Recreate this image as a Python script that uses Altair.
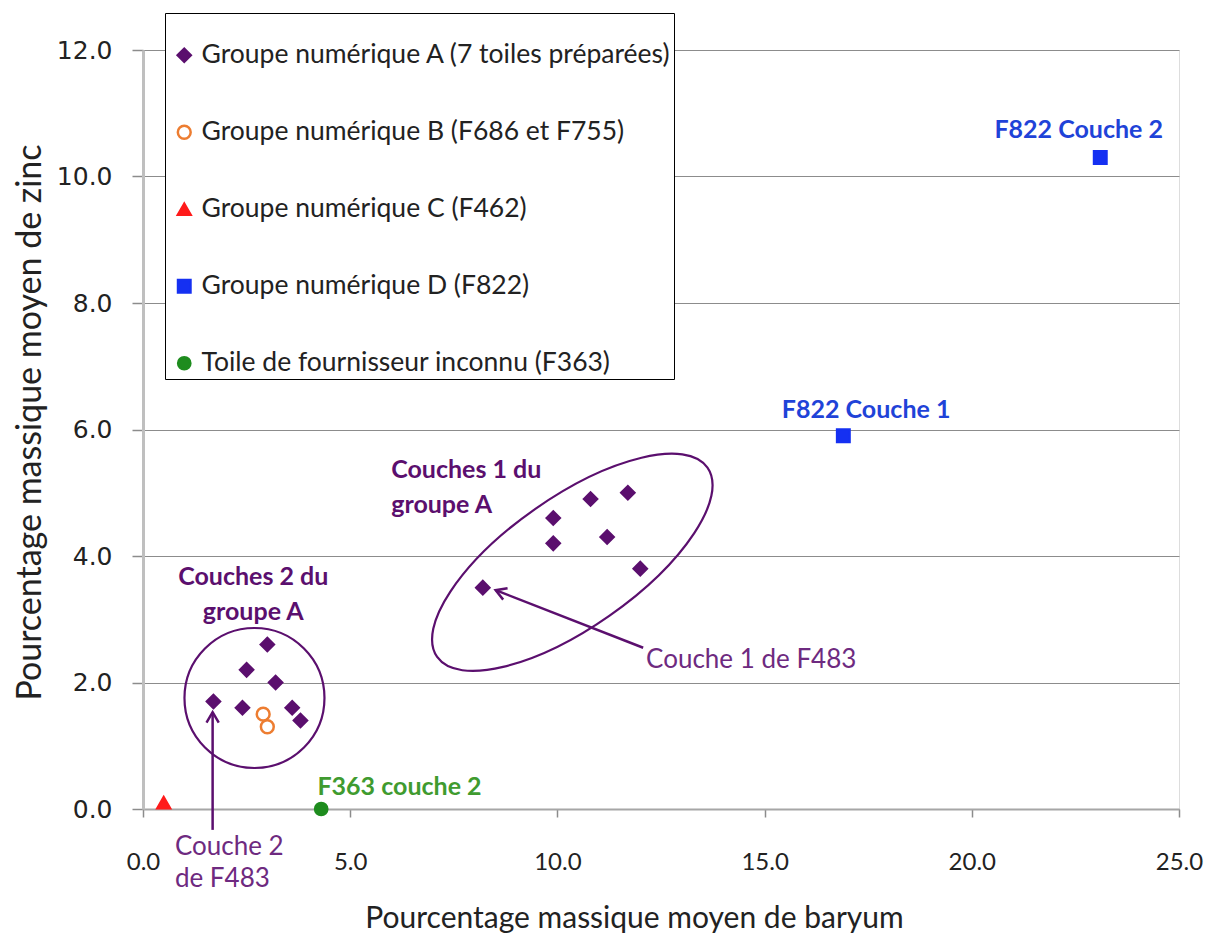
import altair as alt
import pandas as pd

# ---- data ----
groups = [
    "Groupe numérique A (7 toiles préparées)",
    "Groupe numérique B (F686 et F755)",
    "Groupe numérique C (F462)",
    "Groupe numérique D (F822)",
    "Toile de fournisseur inconnu (F363)",
]
groupA_x = [8.2, 9.9, 9.9, 10.8, 11.2, 11.7, 12.0, 1.7, 2.4, 2.5, 3.0, 3.2, 3.6, 3.8]
groupA_y = [3.5, 4.6, 4.2, 4.9, 4.3, 5.0, 3.8, 1.7, 1.6, 2.2, 2.6, 2.0, 1.6, 1.4]
groupB_x = [2.9, 3.0]
groupB_y = [1.5, 1.3]
groupC_x = [0.5]
groupC_y = [0.1]
groupD_x = [16.9, 23.1]
groupD_y = [5.9, 10.3]
groupE_x = [4.3]
groupE_y = [0.0]

x_ticks = [0, 5, 10, 15, 20, 25]
y_ticks = [0, 2, 4, 6, 8, 10, 12]

colors = ["#5b0f6e", "#ed7d31", "#ff1a1a", "#1530f2", "#1e8c1e"]
fills = ["#5b0f6e", "#ffffff", "#ff1a1a", "#1530f2", "#1e8c1e"]
shapes = ["diamond", "circle", "triangle-up", "square", "circle"]
sizes = [170, 150, 150, 190, 140]

rows = []
for g, xs_, ys_ in zip(groups,
                       [groupA_x, groupB_x, groupC_x, groupD_x, groupE_x],
                       [groupA_y, groupB_y, groupC_y, groupD_y, groupE_y]):
    for xv, yv in zip(xs_, ys_):
        rows.append({"baryum": xv, "zinc": yv, "groupe": g})
df = pd.DataFrame(rows)

# annotations (y of multi-line labels = first line)
boldc_text = ["F822 Couche 2", "F822 Couche 1", "F363 couche 2", "Couches 2 du\ngroupe A"]
boldc_x = [22.58, 17.45, 6.19, 2.66]
boldc_y = [10.74, 6.31, 0.35, 3.668]
boldc_col = ["#1f43d8", "#1f43d8", "#3f9b2f", "#5b0f6e"]

boldl_text = ["Couches 1 du\ngroupe A"]
boldl_x = [5.99]
boldl_y = [5.36]

note_text = ["Couche 1 de F483", "Couche 2\nde F483"]
note_x = [12.14, 0.77]
note_y = [2.36, -0.60]

ell_x = [10.36]
ell_y = [3.9]
circ_x = [2.69]
circ_y = [1.755]

arrow_x1 = [12.07, 1.68]
arrow_y1 = [2.55, -0.33]
arrow_x2 = [8.51, 1.68]
arrow_y2 = [3.46, 1.53]
arrow_angle = [291, 0]

purple = "#5b0f6e"
note_purple = "#6e2a80"

xs = alt.Scale(domain=[0, 25], nice=False)
ys = alt.Scale(domain=[0, 12], nice=False)

base_x = alt.X("baryum:Q", scale=xs,
               axis=alt.Axis(title="Pourcentage massique moyen de baryum", values=x_ticks,
                             format=".1f", grid=False, tickSize=8, labelPadding=45,
                             labelBaseline="middle", labelFlush=False,
                             labelFont="Lato", labelFontSize=24, labelColor="#222",
                             domainColor="#a6a6a6", domainWidth=2, tickColor="#8c8c8c",
                             tickWidth=1.5,
                             titleFont="Lato", titleFontSize=30, titleFontWeight="normal",
                             titleColor="#222", titleX=491, titleY=109,
                             titleBaseline="middle", titleAlign="center"))
base_y = alt.Y("zinc:Q", scale=ys,
               axis=alt.Axis(title="Pourcentage massique moyen de zinc", values=y_ticks,
                             format=".1f", grid=True, gridColor="#8c8c8c", gridWidth=1,
                             tickSize=11, labelPadding=20, labelFont="DejaVu Sans",
                             labelFontSize=25, labelColor="#222", labelFlush=False,
                             domainColor="#bfbfbf", domainWidth=3, tickColor="#8c8c8c",
                             tickWidth=1.5,
                             titleFont="Lato", titleFontSize=34, titleFontWeight="normal",
                             titleColor="#222", titleX=-113, titleY=372,
                             titleBaseline="middle", titleAlign="center", titleAngle=-90))

legend = alt.Legend(orient="none", legendX=22, legendY=-37,
                    title="\u00a0" * 133, titleFontSize=20, titlePadding=7, titleLimit=2000,
                    strokeColor="#000", fillColor="#ffffff", padding=2,
                    symbolOffset=4, rowPadding=50, labelFont="Lato", labelFontSize=26.5,
                    labelColor="#222", labelOffset=4, symbolStrokeWidth=2.5,
                    labelLimit=800)

points = alt.Chart(df).mark_point(strokeWidth=2.5, opacity=1).encode(
    x=base_x,
    y=base_y,
    shape=alt.Shape("groupe:N", scale=alt.Scale(domain=groups, range=shapes), legend=legend, sort=groups),
    stroke=alt.Stroke("groupe:N", scale=alt.Scale(domain=groups, range=colors), legend=legend, sort=groups),
    fill=alt.Fill("groupe:N", scale=alt.Scale(domain=groups, range=fills), legend=legend, sort=groups),
    size=alt.Size("groupe:N", scale=alt.Scale(domain=groups, range=sizes), legend=legend, sort=groups),
)

ell_df = pd.DataFrame({"baryum": ell_x, "zinc": ell_y})
ellipse = alt.Chart(ell_df).mark_point(
    shape="M-1,0A1,0.394,0,1,1,1,0A1,0.394,0,1,1,-1,0Z",
    size=108900, angle=325, filled=False, stroke=purple, strokeWidth=2.2, opacity=1
).encode(x=alt.X("baryum:Q", scale=xs), y=alt.Y("zinc:Q", scale=ys))

circ_df = pd.DataFrame({"baryum": circ_x, "zinc": circ_y})
circle = alt.Chart(circ_df).mark_point(
    shape="circle", size=19600, filled=False, stroke=purple, strokeWidth=2.2, opacity=1
).encode(x=alt.X("baryum:Q", scale=xs), y=alt.Y("zinc:Q", scale=ys))

arr_df = pd.DataFrame({"x1": arrow_x1, "y1": arrow_y1, "x2": arrow_x2, "y2": arrow_y2,
                       "angle": arrow_angle})
arrow_lines = alt.Chart(arr_df).mark_rule(color=purple, strokeWidth=2.5).encode(
    x=alt.X("x1:Q", scale=xs), y=alt.Y("y1:Q", scale=ys), x2="x2:Q", y2="y2:Q")
arrow_heads = alt.Chart(arr_df).mark_point(
    shape="M-0.5,0.85L0,0L0.5,0.85", size=600, filled=False, stroke=purple,
    strokeWidth=2.5, opacity=1
).encode(x=alt.X("x2:Q", scale=xs), y=alt.Y("y2:Q", scale=ys),
         angle=alt.Angle("angle:Q", scale=None))

boldc_df = pd.DataFrame({"x": boldc_x, "y": boldc_y, "t": boldc_text, "c": boldc_col})
boldc_labels = alt.Chart(boldc_df).mark_text(
    font="Lato", fontSize=25, fontWeight="bold", lineBreak="\n", lineHeight=35,
    align="center", baseline="middle"
).encode(x=alt.X("x:Q", scale=xs), y=alt.Y("y:Q", scale=ys), text="t:N",
         color=alt.Color("c:N", scale=None))

boldl_df = pd.DataFrame({"x": boldl_x, "y": boldl_y, "t": boldl_text})
boldl_labels = alt.Chart(boldl_df).mark_text(
    font="Lato", fontSize=25, fontWeight="bold", lineBreak="\n", lineHeight=35,
    align="left", baseline="middle", color=purple
).encode(x=alt.X("x:Q", scale=xs), y=alt.Y("y:Q", scale=ys), text="t:N")

note_df = pd.DataFrame({"x": note_x, "y": note_y, "t": note_text})
note_labels = alt.Chart(note_df).mark_text(
    font="Lato", fontSize=26, color=note_purple, lineBreak="\n", lineHeight=32,
    align="left", baseline="middle"
).encode(x=alt.X("x:Q", scale=xs), y=alt.Y("y:Q", scale=ys), text="t:N")

chart = alt.layer(
    ellipse, circle, arrow_lines, arrow_heads, points, boldc_labels, boldl_labels, note_labels
).properties(
    width=1036, height=759,
    autosize=alt.AutoSizeParams(type="none"),
    padding={"left": 135, "top": 42, "right": 26, "bottom": 125},
).configure_view(stroke=None).configure(background="white")

chart.save("out.html", embed_options={"renderer": "svg", "actions": False})
